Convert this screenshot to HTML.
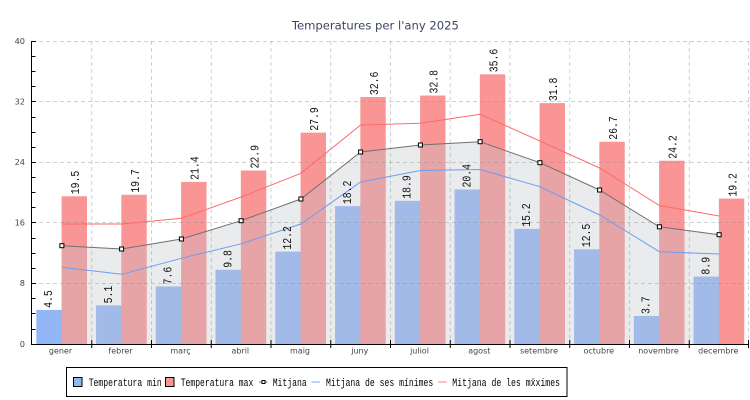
<!DOCTYPE html>
<html><head><meta charset="utf-8"><style>
html,body{margin:0;padding:0;background:#fff;}
svg{display:block;}
</style></head><body>
<svg width="750" height="400" viewBox="0 0 750 400" xmlns="http://www.w3.org/2000/svg">
<rect width="750" height="400" fill="#fff"/>
<text x="375.4" y="29.5" text-anchor="middle" font-family="DejaVu Sans, Liberation Sans, sans-serif" font-size="11.6" fill="#3d4663">Temperatures per l'any 2025</text>

<g fill="#93b6f7">
<rect x="36.3" y="309.91" width="25.7" height="34.09"/>
<rect x="96.05" y="305.37" width="25.7" height="38.63"/>
<rect x="155.8" y="286.43" width="25.7" height="57.57"/>
<rect x="215.55" y="269.76" width="25.7" height="74.24"/>
<rect x="275.3" y="251.59" width="25.7" height="92.41"/>
<rect x="335.05" y="206.14" width="25.7" height="137.86"/>
<rect x="394.8" y="200.83" width="25.7" height="143.17"/>
<rect x="454.55" y="189.47" width="25.7" height="154.53"/>
<rect x="514.3" y="228.86" width="25.7" height="115.14"/>
<rect x="574.05" y="249.31" width="25.7" height="94.69"/>
<rect x="633.8" y="315.97" width="25.7" height="28.03"/>
<rect x="693.55" y="276.58" width="25.7" height="67.42"/>
</g>
<g fill="#f99595">
<rect x="61.6" y="196.29" width="25.4" height="147.71"/>
<rect x="121.35" y="194.77" width="25.4" height="149.23"/>
<rect x="181.1" y="181.9" width="25.4" height="162.1"/>
<rect x="240.85" y="170.53" width="25.4" height="173.47"/>
<rect x="300.6" y="132.66" width="25.4" height="211.34"/>
<rect x="360.35" y="97.05" width="25.4" height="246.95"/>
<rect x="420.1" y="95.54" width="25.4" height="248.46"/>
<rect x="479.85" y="74.33" width="25.4" height="269.67"/>
<rect x="539.6" y="103.12" width="25.4" height="240.88"/>
<rect x="599.35" y="141.75" width="25.4" height="202.25"/>
<rect x="659.1" y="160.69" width="25.4" height="183.31"/>
<rect x="718.85" y="198.56" width="25.4" height="145.44"/>
</g>

<polygon fill="rgb(192,194,200)" fill-opacity="0.33" points="61.9,344 61.9,245.7 121.6,249 181.4,239 241.1,220.7 300.9,199 360.6,152 420.4,145 480.1,141.7 539.9,162.7 599.6,190 659.4,226.8 719.1,234.7 719.1,344"/>

<g stroke="rgb(140,140,140)" stroke-opacity="0.4" stroke-width="1" stroke-dasharray="4,3" fill="none">
<line x1="32" y1="41.5" x2="749" y2="41.5"/>
<line x1="32" y1="101.5" x2="749" y2="101.5"/>
<line x1="32" y1="162.5" x2="749" y2="162.5"/>
<line x1="32" y1="222.5" x2="749" y2="222.5"/>
<line x1="32" y1="283.5" x2="749" y2="283.5"/>
<line x1="91.75" y1="41" x2="91.75" y2="344"/>
<line x1="151.5" y1="41" x2="151.5" y2="344"/>
<line x1="211.25" y1="41" x2="211.25" y2="344"/>
<line x1="271" y1="41" x2="271" y2="344"/>
<line x1="330.75" y1="41" x2="330.75" y2="344"/>
<line x1="390.5" y1="41" x2="390.5" y2="344"/>
<line x1="450.25" y1="41" x2="450.25" y2="344"/>
<line x1="510" y1="41" x2="510" y2="344"/>
<line x1="569.75" y1="41" x2="569.75" y2="344"/>
<line x1="629.5" y1="41" x2="629.5" y2="344"/>
<line x1="689.25" y1="41" x2="689.25" y2="344"/>
<line x1="748.5" y1="41" x2="748.5" y2="344"/>
</g>

<polyline fill="none" stroke="#ff6a6a" stroke-width="1" points="61.9,224 121.6,224 181.4,218.3 241.1,197 300.9,173.3 360.6,125 420.4,123.3 480.1,114.3 539.9,141 599.6,168 659.4,205.5 719.1,216"/>
<polyline fill="none" stroke="#6f9cf0" stroke-width="1" points="61.9,267.3 121.6,274.3 181.4,258.3 241.1,243.8 300.9,224 360.6,182 420.4,170.5 480.1,169.5 539.9,186.7 599.6,215 659.4,251.7 719.1,254"/>
<polyline fill="none" stroke="#707070" stroke-width="1" points="61.9,245.7 121.6,249 181.4,239 241.1,220.7 300.9,199 360.6,152 420.4,145 480.1,141.7 539.9,162.7 599.6,190 659.4,226.8 719.1,234.7"/>
<g fill="#fff" stroke="#000" stroke-width="1">
<rect x="59.9" y="243.7" width="4" height="4"/>
<rect x="119.6" y="247" width="4" height="4"/>
<rect x="179.4" y="237" width="4" height="4"/>
<rect x="239.1" y="218.7" width="4" height="4"/>
<rect x="298.9" y="197" width="4" height="4"/>
<rect x="358.6" y="150" width="4" height="4"/>
<rect x="418.4" y="143" width="4" height="4"/>
<rect x="478.1" y="139.7" width="4" height="4"/>
<rect x="537.9" y="160.7" width="4" height="4"/>
<rect x="597.6" y="188" width="4" height="4"/>
<rect x="657.4" y="224.8" width="4" height="4"/>
<rect x="717.1" y="232.7" width="4" height="4"/>
</g>

<g stroke="#000" stroke-width="1">
<line x1="31.5" y1="41" x2="31.5" y2="344.5"/>
<line x1="31" y1="344.5" x2="749" y2="344.5"/>
</g>
<g stroke="#000" stroke-width="1">
<line x1="32" y1="41.5" x2="36" y2="41.5"/>
<line x1="32" y1="56.5" x2="35.5" y2="56.5"/>
<line x1="32" y1="71.5" x2="35.5" y2="71.5"/>
<line x1="32" y1="86.5" x2="35.5" y2="86.5"/>
<line x1="32" y1="101.5" x2="36" y2="101.5"/>
<line x1="32" y1="117.5" x2="35.5" y2="117.5"/>
<line x1="32" y1="132.5" x2="35.5" y2="132.5"/>
<line x1="32" y1="147.5" x2="35.5" y2="147.5"/>
<line x1="32" y1="162.5" x2="36" y2="162.5"/>
<line x1="32" y1="177.5" x2="35.5" y2="177.5"/>
<line x1="32" y1="192.5" x2="35.5" y2="192.5"/>
<line x1="32" y1="207.5" x2="35.5" y2="207.5"/>
<line x1="32" y1="222.5" x2="36" y2="222.5"/>
<line x1="32" y1="238.5" x2="35.5" y2="238.5"/>
<line x1="32" y1="253.5" x2="35.5" y2="253.5"/>
<line x1="32" y1="268.5" x2="35.5" y2="268.5"/>
<line x1="32" y1="283.5" x2="36" y2="283.5"/>
<line x1="32" y1="298.5" x2="35.5" y2="298.5"/>
<line x1="32" y1="313.5" x2="35.5" y2="313.5"/>
<line x1="32" y1="329.5" x2="35.5" y2="329.5"/>
<line x1="91.75" y1="340" x2="91.75" y2="348"/>
<line x1="151.5" y1="340" x2="151.5" y2="348"/>
<line x1="211.25" y1="340" x2="211.25" y2="348"/>
<line x1="271" y1="340" x2="271" y2="348"/>
<line x1="330.75" y1="340" x2="330.75" y2="348"/>
<line x1="390.5" y1="340" x2="390.5" y2="348"/>
<line x1="450.25" y1="340" x2="450.25" y2="348"/>
<line x1="510" y1="340" x2="510" y2="348"/>
<line x1="569.75" y1="340" x2="569.75" y2="348"/>
<line x1="629.5" y1="340" x2="629.5" y2="348"/>
<line x1="689.25" y1="340" x2="689.25" y2="348"/>
<line x1="748.5" y1="340" x2="748.5" y2="348"/>
</g>

<g font-family="DejaVu Sans, Liberation Sans, sans-serif" font-size="8.2" fill="#444" text-anchor="end">
<text x="25" y="346.8">0</text>
<text x="25" y="286.2">8</text>
<text x="25" y="225.6">16</text>
<text x="25" y="165">24</text>
<text x="25" y="104.4">32</text>
<text x="25" y="43.8">40</text>
</g>
<g font-family="DejaVu Sans, Liberation Sans, sans-serif" font-size="8" fill="#444" text-anchor="middle">
<text x="60.5" y="353.5">gener</text>
<text x="120.5" y="353.5">febrer</text>
<text x="180.5" y="353.5">març</text>
<text x="240.3" y="353.5">abril</text>
<text x="300" y="353.5">maig</text>
<text x="359.8" y="353.5">juny</text>
<text x="419.5" y="353.5">juliol</text>
<text x="479.3" y="353.5">agost</text>
<text x="539" y="353.5">setembre</text>
<text x="598.8" y="353.5">octubre</text>
<text x="658.5" y="353.5">novembre</text>
<text x="718.3" y="353.5">decembre</text>
</g>

<g font-family="Liberation Mono, DejaVu Sans Mono, monospace" font-size="12" fill="#111">
<text transform="translate(52,307.9) rotate(-90)" textLength="17.7" lengthAdjust="spacingAndGlyphs">4.5</text>
<text transform="translate(111.75,303.4) rotate(-90)" textLength="17.7" lengthAdjust="spacingAndGlyphs">5.1</text>
<text transform="translate(171.5,284.4) rotate(-90)" textLength="17.7" lengthAdjust="spacingAndGlyphs">7.6</text>
<text transform="translate(231.25,267.8) rotate(-90)" textLength="17.7" lengthAdjust="spacingAndGlyphs">9.8</text>
<text transform="translate(291,249.6) rotate(-90)" textLength="23.5" lengthAdjust="spacingAndGlyphs">12.2</text>
<text transform="translate(350.75,204.1) rotate(-90)" textLength="23.5" lengthAdjust="spacingAndGlyphs">18.2</text>
<text transform="translate(410.5,198.8) rotate(-90)" textLength="23.5" lengthAdjust="spacingAndGlyphs">18.9</text>
<text transform="translate(470.25,187.5) rotate(-90)" textLength="23.5" lengthAdjust="spacingAndGlyphs">20.4</text>
<text transform="translate(530,226.9) rotate(-90)" textLength="23.5" lengthAdjust="spacingAndGlyphs">15.2</text>
<text transform="translate(589.75,247.3) rotate(-90)" textLength="23.5" lengthAdjust="spacingAndGlyphs">12.5</text>
<text transform="translate(649.5,314) rotate(-90)" textLength="17.7" lengthAdjust="spacingAndGlyphs">3.7</text>
<text transform="translate(709.25,274.6) rotate(-90)" textLength="17.7" lengthAdjust="spacingAndGlyphs">8.9</text>

<text transform="translate(79,194.3) rotate(-90)" textLength="23.5" lengthAdjust="spacingAndGlyphs">19.5</text>
<text transform="translate(138.75,192.8) rotate(-90)" textLength="23.5" lengthAdjust="spacingAndGlyphs">19.7</text>
<text transform="translate(198.5,179.9) rotate(-90)" textLength="23.5" lengthAdjust="spacingAndGlyphs">21.4</text>
<text transform="translate(258.25,168.5) rotate(-90)" textLength="23.5" lengthAdjust="spacingAndGlyphs">22.9</text>
<text transform="translate(318,130.7) rotate(-90)" textLength="23.5" lengthAdjust="spacingAndGlyphs">27.9</text>
<text transform="translate(377.75,95.1) rotate(-90)" textLength="23.5" lengthAdjust="spacingAndGlyphs">32.6</text>
<text transform="translate(437.5,93.5) rotate(-90)" textLength="23.5" lengthAdjust="spacingAndGlyphs">32.8</text>
<text transform="translate(497.25,72.3) rotate(-90)" textLength="23.5" lengthAdjust="spacingAndGlyphs">35.6</text>
<text transform="translate(557,101.1) rotate(-90)" textLength="23.5" lengthAdjust="spacingAndGlyphs">31.8</text>
<text transform="translate(616.75,139.8) rotate(-90)" textLength="23.5" lengthAdjust="spacingAndGlyphs">26.7</text>
<text transform="translate(676.5,158.7) rotate(-90)" textLength="23.5" lengthAdjust="spacingAndGlyphs">24.2</text>
<text transform="translate(736.25,196.6) rotate(-90)" textLength="23.5" lengthAdjust="spacingAndGlyphs">19.2</text>
</g>

<rect x="66.5" y="367.5" width="500.5" height="29" fill="#fff" stroke="#000" stroke-width="1"/>
<rect x="73.5" y="377.5" width="8.5" height="9" fill="#93b6f7" stroke="#000" stroke-width="1"/>
<rect x="165.5" y="377.5" width="8.5" height="9" fill="#f99595" stroke="#000" stroke-width="1"/>
<line x1="259" y1="382" x2="267.5" y2="382" stroke="#707070" stroke-width="1"/>
<rect x="262" y="380.5" width="3" height="3" fill="#fff" stroke="#000" stroke-width="1"/>
<line x1="311.5" y1="382" x2="320" y2="382" stroke="#93b6f7" stroke-width="1.2"/>
<line x1="438.3" y1="382" x2="446.7" y2="382" stroke="#f99595" stroke-width="1.2"/>
<g font-family="Liberation Mono, DejaVu Sans Mono, monospace" font-size="11" fill="#000">
<text x="88.7" y="386" textLength="73" lengthAdjust="spacingAndGlyphs">Temperatura min</text>
<text x="180.7" y="386" textLength="72.6" lengthAdjust="spacingAndGlyphs">Temperatura max</text>
<text x="272.7" y="386" textLength="34" lengthAdjust="spacingAndGlyphs">Mitjana</text>
<text x="326" y="386" textLength="107.3" lengthAdjust="spacingAndGlyphs">Mitjana de ses mínimes</text>
<text x="452.3" y="386" textLength="107.7" lengthAdjust="spacingAndGlyphs">Mitjana de les mẍximes</text>
</g>
</svg>
</body></html>
